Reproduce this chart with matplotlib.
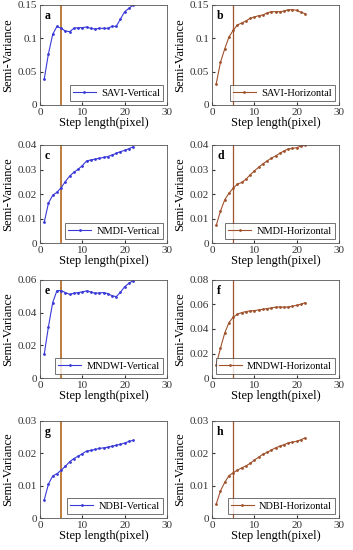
import matplotlib
matplotlib.use('Agg')
import matplotlib.pyplot as plt

plt.rcParams['font.family'] = ['Liberation Serif', 'DejaVu Serif']

steps = list(range(1, 23))

savi_v = [0.039, 0.077, 0.106, 0.118, 0.115, 0.111, 0.110, 0.115, 0.116, 0.116, 0.117,
          0.115, 0.114, 0.115, 0.115, 0.115, 0.118, 0.118, 0.129, 0.140, 0.145, 0.150]
savi_h = [0.032, 0.064, 0.084, 0.102, 0.112, 0.120, 0.123, 0.126, 0.130, 0.132, 0.134,
          0.135, 0.138, 0.140, 0.140, 0.140, 0.141, 0.143, 0.143, 0.142, 0.139, 0.137]
nmdi_v = [0.0085, 0.0163, 0.0195, 0.0207, 0.0226, 0.0251, 0.0273, 0.0289, 0.0301, 0.0316, 0.0335,
          0.0339, 0.0342, 0.0346, 0.0349, 0.0353, 0.0359, 0.0366, 0.0373, 0.0378, 0.0385, 0.0393]
nmdi_h = [0.0072, 0.0130, 0.0176, 0.0203, 0.0224, 0.0240, 0.0247, 0.0260, 0.0278, 0.0294, 0.0309,
          0.0323, 0.0335, 0.0346, 0.0355, 0.0366, 0.0376, 0.0384, 0.0386, 0.0389, 0.0396, 0.0399]
mndwi_v = [0.0146, 0.0315, 0.0462, 0.0535, 0.0535, 0.0523, 0.0512, 0.0519, 0.0523, 0.0527, 0.0533,
           0.0527, 0.0519, 0.0521, 0.0523, 0.0517, 0.0504, 0.0498, 0.0525, 0.0559, 0.0580, 0.0596]
mndwi_h = [0.0108, 0.0244, 0.0366, 0.0453, 0.0496, 0.0521, 0.0534, 0.0542, 0.0548, 0.0550, 0.0556,
           0.0561, 0.0567, 0.0572, 0.0578, 0.0580, 0.0578, 0.0580, 0.0586, 0.0594, 0.0602, 0.0615]
ndbi_v = [0.0056, 0.0105, 0.0130, 0.0137, 0.0148, 0.0160, 0.0174, 0.0184, 0.0191, 0.0199, 0.0207,
          0.0209, 0.0212, 0.0215, 0.0217, 0.0219, 0.0222, 0.0225, 0.0228, 0.0232, 0.0237, 0.0240]
ndbi_h = [0.0043, 0.0084, 0.0110, 0.0131, 0.0140, 0.0148, 0.0155, 0.0161, 0.0169, 0.0179, 0.0188,
          0.0197, 0.0203, 0.0210, 0.0217, 0.0222, 0.0227, 0.0232, 0.0235, 0.0237, 0.0242, 0.0248]

panels = [
    ('a', 'SAVI-Vertical', savi_v, 0.15, [0, 0.05, 0.1, 0.15], ['0', '0.05', '0.1', '0.15']),
    ('b', 'SAVI-Horizontal', savi_h, 0.15, [0, 0.05, 0.1, 0.15], ['0', '0.05', '0.1', '0.15']),
    ('c', 'NMDI-Vertical', nmdi_v, 0.04, [0, 0.01, 0.02, 0.03, 0.04], ['0', '0.01', '0.02', '0.03', '0.04']),
    ('d', 'NMDI-Horizontal', nmdi_h, 0.04, [0, 0.01, 0.02, 0.03, 0.04], ['0', '0.01', '0.02', '0.03', '0.04']),
    ('e', 'MNDWI-Vertical', mndwi_v, 0.06, [0, 0.02, 0.04, 0.06], ['0', '0.02', '0.04', '0.06']),
    ('f', 'MNDWI-Horizontal', mndwi_h, 0.08, [0, 0.02, 0.04, 0.06, 0.08], ['0', '0.02', '0.04', '0.06', '0.08']),
    ('g', 'NDBI-Vertical', ndbi_v, 0.03, [0, 0.01, 0.02, 0.03], ['0', '0.01', '0.02', '0.03']),
    ('h', 'NDBI-Horizontal', ndbi_h, 0.03, [0, 0.01, 0.02, 0.03], ['0', '0.01', '0.02', '0.03']),
]

W, H = 353, 550
fig = plt.figure(figsize=(3.53, 5.5), dpi=100)

col_left = [40, 212]
col_width = 127
row_top = [5, 145, 280, 421]
row_bot = [105, 243, 378, 518]

blue = '#3a3ad8'
brown = '#a0522d'

for i, (letter, name, vals, ymax, yt, ytl) in enumerate(panels):
    r, c = i // 2, i % 2
    ax = fig.add_axes([col_left[c] / W, 1 - row_bot[r] / H,
                       col_width / W, (row_bot[r] - row_top[r]) / H])
    color = blue if c == 0 else brown
    ax.axvline(5, color='#b5651d' if c == 0 else brown, lw=1.2 if c == 0 else 0.9)
    ax.plot(steps, vals, color=color, lw=0.8, marker='o', ms=1.0, label=name)
    ax.set_xlim(0, 30)
    ax.set_ylim(0, ymax)
    ax.set_xticks([0, 10, 20, 30])
    ax.set_yticks(yt)
    ax.set_yticklabels(ytl)
    ax.tick_params(labelsize=8, length=2, direction='in', colors='#333333', pad=2)
    for s in ax.spines.values():
        s.set_color('#555555')
        s.set_linewidth(0.6)
    ax.set_xlabel('Step length(pixel)', fontsize=9, labelpad=0)
    ax.set_ylabel('Semi-Variance', fontsize=9, labelpad=3)
    ax.text(0.04, 0.95, letter, transform=ax.transAxes, fontsize=8.5,
            fontweight='bold', va='top', ha='left')
    leg = ax.legend(loc='lower right', fontsize=7.5, frameon=True, fancybox=False,
                    handlelength=2.2, borderpad=0.3, borderaxespad=0.4, handletextpad=0.5)
    leg.get_frame().set_edgecolor('#333333')
    leg.get_frame().set_linewidth(0.6)

fig.savefig('out.png', dpi=100)
